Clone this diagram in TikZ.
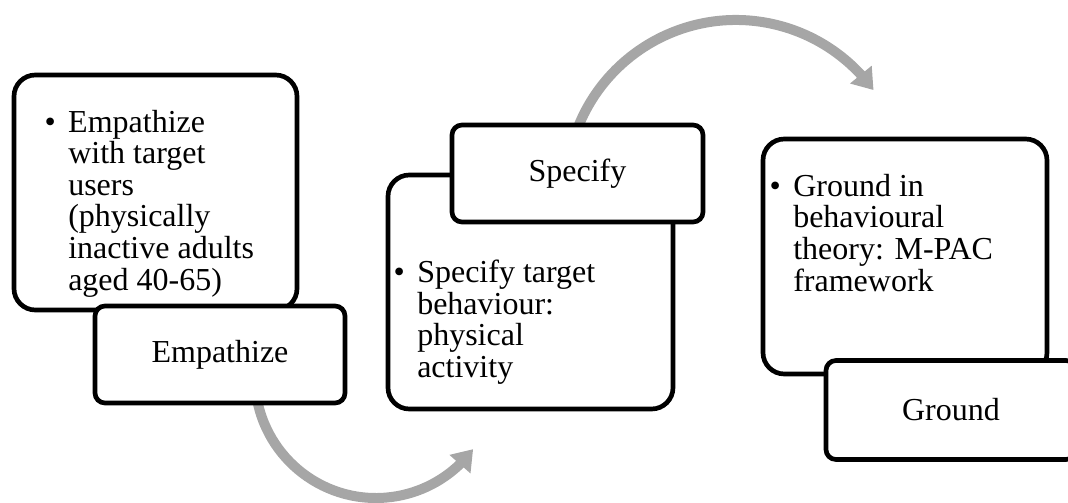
\documentclass[tikz,border=0pt]{standalone}
\usepackage{fontspec}
\setmainfont{Liberation Serif}
\usetikzlibrary{arrows.meta,bending}
\definecolor{flowgray}{RGB}{166,166,166}
\def\pu{0.75pt}
\newcommand\itembullet{\llap{\textbullet\hspace{9.3pt}}}
\begin{document}
\begin{tikzpicture}[x=0.75pt,y=0.75pt,
  card/.style={draw=black, line width=3.5pt, fill=white, rounded corners=16pt,
    inner sep=0pt, outer sep=0pt},
  tab/.style={draw=black, line width=3.5pt, fill=white, rounded corners=7.5pt,
    inner sep=0pt, outer sep=0pt, font=\fontsize{24}{24}\selectfont},
  flow/.style={draw=flowgray, line width=7.5pt,
    -{Triangle[length=15pt,width=20pt,flex]}},
  itemtext/.style={anchor=base west, inner sep=0pt, align=left,
    font=\fontsize{24}{23.7}\selectfont}
]
\useasboundingbox (0,0) rectangle (1068,-503);
\clip (0,0) rectangle (1068,-503);

% centres of the two curved arrows
\coordinate (c1) at (376,-377);
\coordinate (c2) at (736,-190);
\coordinate (s1) at ([shift={(185:90.75pt)}]c1);
\coordinate (s2) at ([shift={(165:127.5pt)}]c2);

% curved arrows, drawn first so the cards cover their tails
\draw[flow] (s1) arc[start angle=185, end angle=323.4, radius=90.75pt];
\draw[flow] (s2) arc[start angle=165, end angle=36, radius=127.5pt];

% large cards
\node[card, minimum width=283*\pu, minimum height=235*\pu] (card1) at (155.5,-192.5) {};
\node[card, minimum width=285*\pu, minimum height=234*\pu] (card2) at (530.5,-292) {};
\node[card, minimum width=284*\pu, minimum height=235*\pu] (card3) at (905,-256.5) {};

% title tabs
\node[tab, minimum width=250*\pu, minimum height=97*\pu] (tab1) at (220,-354.5) {Empathize};
\node[tab, minimum width=251*\pu, minimum height=97*\pu] (tab2) at (577.5,-173.5) {Specify};
\node[tab, minimum width=250*\pu, minimum height=99*\pu] (tab3) at (951,-410) {Ground};

% bullet texts (anchored on the baseline of their last line)
\node[itemtext] (txt1) at (68,-290) {\itembullet Empathize\\with target\\users\\(physically\\inactive adults\\aged 40-65)};
\node[itemtext] (txt2) at (417,-377.5) {\itembullet Specify target\\behaviour:\\physical\\activity};
\node[itemtext] (txt3) at (793,-291) {\itembullet Ground in\\behavioural\\theory: M-PAC\\framework};
\end{tikzpicture}
\end{document}
